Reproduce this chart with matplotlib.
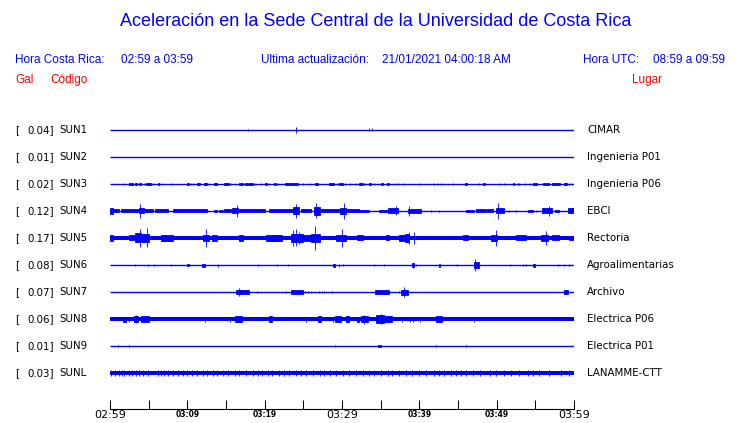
import matplotlib
matplotlib.use("Agg")
import matplotlib.pyplot as plt

# Station info (top to bottom)
codes = ["SUN1", "SUN2", "SUN3", "SUN4", "SUN5", "SUN6", "SUN7", "SUN8", "SUN9", "SUNL"]
gal_max = [0.04, 0.01, 0.02, 0.12, 0.17, 0.08, 0.07, 0.06, 0.01, 0.03]
places = ["CIMAR", "Ingenieria P01", "Ingenieria P06", "EBCI", "Rectoria",
          "Agroalimentarias", "Archivo", "Electrica P06", "Electrica P01", "LANAMME-CTT"]

# continuous noise level of each trace (counts, half width)
noise_floor = [0, 0, 0, 0, 2.0, 0, 0, 1.7, 0, 1.7]

# bursts: (start minute, end minute, half amplitude in counts)
sun1 = [(17.9, 17.9, 1.0), (24.0, 24.1, 1.5), (24.05, 24.05, 3.0),
        (33.55, 33.55, 1.5), (33.85, 33.85, 1.5)]
sun2 = []
sun3 = [(1.85, 1.85, 1.0), (2.5, 3.0, 1.3), (3.28, 3.53, 1.3), (3.79, 4.05, 1.3),
        (4.44, 4.44, 1.3), (4.66, 5.3, 1.3), (5.6, 5.6, 1.3), (6.16, 6.38, 1.3),
        (6.6, 6.6, 1.3), (7.9, 7.9, 1.3), (9.91, 10.17, 1.3), (10.5, 10.5, 1.3),
        (10.78, 10.78, 1.3), (11.2, 11.64, 1.3), (12.1, 12.5, 1.3), (12.84, 12.84, 1.3),
        (13.5, 13.8, 1.3), (14.78, 15.43, 1.3), (15.65, 15.65, 1.3), (16.64, 17.16, 1.3),
        (17.5, 17.8, 1.3), (18.0, 18.45, 1.3), (18.8, 18.8, 1.3), (19.57, 19.57, 1.0),
        (20.1, 20.34, 1.3), (20.6, 20.6, 1.3), (21.25, 21.47, 1.3), (21.72, 21.72, 1.3),
        (22.63, 22.97, 1.3), (23.2, 24.27, 1.3), (24.9, 24.9, 1.0), (25.86, 25.86, 1.0),
        (26.5, 26.94, 1.3), (28.28, 28.97, 1.3), (29.35, 29.35, 1.3), (29.65, 30.17, 1.3),
        (30.43, 30.43, 1.3), (31.03, 31.03, 1.3), (31.8, 31.8, 1.3), (32.24, 32.67, 1.3),
        (32.97, 32.97, 1.3), (33.53, 33.8, 1.3), (34.18, 34.18, 1.3), (35.09, 35.34, 1.3),
        (35.8, 36.1, 1.3), (36.8, 36.8, 1.0), (37.2, 37.2, 1.0), (37.93, 37.93, 1.0),
        (39.9, 39.9, 1.0), (41.94, 41.94, 1.0), (42.37, 42.37, 1.0), (42.8, 42.8, 1.0),
        (44.3, 44.3, 1.0), (45.95, 46.1, 1.3), (47.67, 47.67, 1.0), (48.2, 48.53, 1.3),
        (50.26, 50.26, 1.0), (51.0, 51.0, 1.0), (52.07, 52.28, 1.3), (52.76, 52.76, 1.0),
        (52.93, 52.93, 1.0), (53.6, 53.6, 1.0), (54.3, 54.3, 1.0), (54.74, 55.17, 1.3),
        (55.95, 56.2, 1.3), (56.4, 56.8, 1.3), (57.16, 58.2, 1.3), (58.75, 59.05, 1.3),
        (59.4, 59.4, 1.0), (59.74, 59.74, 1.0)]
sun4 = [(0.0, 0.35, 3.0), (0.35, 1.2, 1.5), (1.4, 3.7, 1.5), (3.8, 4.4, 2.5),
        (3.92, 3.92, 7.0), (4.4, 5.6, 1.5), (5.8, 7.5, 1.5), (8.1, 12.6, 1.5),
        (13.5, 13.9, 1.3), (14.1, 14.6, 1.3), (14.8, 15.6, 1.5), (15.8, 16.5, 2.5),
        (16.4, 16.4, 6.0), (16.7, 20.0, 1.5), (20.6, 23.6, 1.5), (23.6, 24.5, 3.5),
        (24.1, 24.1, 7.0), (24.7, 26.0, 1.5), (26.4, 27.1, 4.0), (26.6, 26.6, 7.5),
        (27.1, 29.7, 1.5), (29.7, 30.5, 3.3), (30.3, 30.3, 8.3), (30.5, 32.2, 1.5),
        (32.2, 33.5, 1.3), (34.8, 35.9, 1.3), (35.9, 37.2, 2.5), (37.0, 37.0, 4.5),
        (38.5, 40.2, 2.0), (38.7, 38.7, 5.0), (41.5, 41.5, 1.0), (42.6, 42.6, 1.0),
        (46.0, 47.1, 1.3), (47.3, 48.6, 1.5), (48.8, 49.5, 1.5), (49.9, 51.0, 2.5),
        (50.2, 50.2, 8.0), (51.6, 51.6, 1.0), (52.5, 52.5, 1.0), (54.0, 54.7, 1.0),
        (55.1, 55.1, 1.0), (55.9, 57.2, 2.5), (56.8, 56.8, 5.0), (57.5, 58.1, 1.3),
        (59.2, 60.0, 2.5)]
sun5 = [(0.0, 0.35, 3.0), (2.5, 3.15, 2.5), (3.28, 4.0, 4.5), (3.88, 3.88, 9.0),
        (4.0, 5.09, 4.0), (4.74, 4.74, 9.5), (6.6, 8.1, 2.7), (6.7, 7.3, 3.3),
        (12.0, 12.84, 3.3), (12.4, 12.4, 9.0), (13.2, 13.9, 2.7), (16.7, 17.2, 2.7),
        (20.2, 22.3, 2.7), (21.0, 21.9, 3.3), (23.4, 24.9, 4.0), (23.6, 23.6, 8.0),
        (24.1, 24.1, 8.5), (24.5, 24.5, 6.0), (24.9, 26.0, 2.7), (26.0, 27.1, 4.0),
        (26.5, 26.5, 12.3), (29.2, 30.5, 3.3), (30.0, 30.0, 9.0), (32.0, 32.7, 2.5),
        (35.7, 36.1, 2.5), (37.4, 38.3, 2.7), (38.1, 38.7, 4.0), (38.6, 38.6, 6.0),
        (39.35, 39.35, 6.0), (45.6, 46.25, 2.5), (49.3, 50.1, 3.0), (49.9, 49.9, 8.0),
        (52.5, 53.8, 2.5), (55.7, 56.6, 3.0), (56.4, 56.4, 6.7), (57.2, 58.1, 2.5),
        (59.4, 60.0, 2.0)]
sun6 = [(3.23, 3.23, 1.3), (4.87, 4.87, 1.3), (5.73, 5.73, 1.3), (7.93, 7.93, 1.0),
        (10.0, 10.2, 1.3), (11.85, 12.28, 1.5), (13.97, 13.97, 1.5), (19.18, 19.18, 1.3),
        (21.55, 21.55, 1.3), (23.06, 23.06, 1.3), (28.9, 29.1, 1.5), (29.57, 29.57, 1.5),
        (30.17, 30.17, 1.3), (34.18, 34.18, 1.0), (35.43, 35.43, 1.3), (39.05, 39.25, 2.0),
        (39.14, 39.14, 2.5), (39.57, 39.57, 1.0), (42.5, 42.67, 1.5), (44.9, 44.9, 1.0),
        (47.03, 47.67, 3.0), (47.24, 47.24, 6.3), (51.77, 51.77, 1.0), (53.45, 53.45, 1.3),
        (53.8, 53.8, 1.3), (54.7, 54.9, 1.5), (57.89, 57.89, 1.0), (58.75, 58.75, 1.0),
        (59.4, 59.4, 1.0)]
sun7 = [(16.3, 18.0, 1.8), (16.5, 17.0, 2.3), (16.64, 16.64, 4.3), (18.97, 18.97, 1.3),
        (22.76, 22.76, 1.0), (23.45, 24.9, 1.6), (25.26, 25.26, 1.3), (25.6, 25.6, 1.3),
        (26.0, 26.0, 1.3), (27.07, 27.07, 1.0), (27.4, 27.4, 1.0), (27.7, 27.7, 1.0),
        (28.7, 28.7, 1.0), (34.3, 36.1, 1.6), (37.4, 37.4, 1.3), (37.63, 38.5, 2.5),
        (37.97, 37.97, 5.0), (58.75, 59.18, 1.8)]
sun8 = [(1.64, 2.07, 2.5), (2.5, 2.5, 2.5), (3.15, 3.58, 3.0), (3.35, 3.35, 4.0),
        (4.0, 5.09, 2.7), (12.33, 12.33, 2.5), (15.5, 15.5, 2.5), (16.2, 17.07, 3.0),
        (20.5, 20.9, 2.7), (25.34, 25.34, 2.5), (26.94, 27.28, 2.7), (28.8, 28.8, 2.5),
        (29.14, 29.87, 3.0), (30.5, 30.95, 2.7), (31.9, 32.15, 2.5), (32.46, 33.3, 3.3),
        (32.9, 32.9, 4.5), (34.4, 35.47, 3.8), (35.0, 35.0, 5.0), (35.47, 36.47, 2.7),
        (37.76, 37.76, 2.5), (38.8, 38.8, 2.5), (39.2, 39.2, 2.5), (40.1, 40.1, 2.5),
        (42.16, 42.9, 3.0), (47.1, 47.1, 2.5)]
sun9 = [(1.08, 1.08, 1.0), (2.5, 2.5, 1.0), (29.14, 29.14, 1.0), (34.6, 35.0, 1.3),
        (42.16, 42.16, 1.0), (46.0, 46.0, 1.0)]
sunl_peaks = [0.1, 0.6, 1.1, 1.55, 1.85, 2.4, 2.9, 3.4, 3.8, 4.3, 4.9, 6.2, 6.6, 7.0,
              7.5, 8.1, 8.75, 9.5, 10.0, 10.6, 11.3, 12.0, 12.6, 13.3, 13.9, 14.6, 15.2,
              16.2, 16.7, 17.6, 18.5, 19.1, 19.7, 20.4, 21.0, 21.9, 22.5, 23.2, 24.05,
              24.7, 25.3, 26.2, 27.1, 27.7, 28.4, 29.2, 30.1, 30.95, 31.8, 32.7, 33.5,
              34.2, 35.0, 35.9, 36.5, 37.4, 38.3, 39.1, 40.0, 40.9, 41.9, 42.6, 43.2,
              44.1, 44.7, 45.4, 46.0, 46.9, 47.8, 49.1, 49.9, 51.0, 51.9, 52.9, 54.0,
              54.7, 55.5, 56.8, 58.3, 59.4]
sunl_peak_amp = 3.0
sunl = [(t, t, sunl_peak_amp) for t in sunl_peaks]

bursts = [sun1, sun2, sun3, sun4, sun5, sun6, sun7, sun8, sun9, sunl]

# time axis
tick_minutes = [0, 10, 20, 30, 40, 50, 60]
tick_labels = ["02:59", "03:09", "03:19", "03:29", "03:39", "03:49", "03:59"]
minor_minutes = [5, 15, 25, 35, 45, 55]

BLUE = "#0000ff"
RED = "#ff0000"
W, H = 740, 423
gain = 1 / 27  # counts -> row spacing

fig = plt.figure(figsize=(W / 100, H / 100), dpi=100)
fig.patch.set_facecolor("white")


def fx(px):
    return px / W


def fy(py):
    return 1 - py / H


# header
hdr = dict(family="Liberation Sans", color=BLUE)
fig.text(fx(376), fy(22), "Aceleración en la Sede Central de la Universidad de Costa Rica",
         ha="center", va="center", fontsize=13, **hdr)
sub = dict(va="center", fontsize=8.5, **hdr)
fig.text(fx(15), fy(60), "Hora Costa Rica:", **sub)
fig.text(fx(121), fy(60), "02:59 a 03:59", **sub)
fig.text(fx(261), fy(60), "Ultima actualización:", **sub)
fig.text(fx(382), fy(60), "21/01/2021 04:00:18 AM", **sub)
fig.text(fx(583), fy(60), "Hora UTC:", **sub)
fig.text(fx(653), fy(60), "08:59 a 09:59", **sub)
red = dict(va="center", fontsize=8.5, family="Liberation Sans", color=RED)
fig.text(fx(15), fy(80), "Gal", **red)
fig.text(fx(50), fy(80), "Código", **red)
fig.text(fx(632), fy(80), "Lugar", **red)

# traces axes: rows 27 px apart, first row at y=130, axis line at y=409
ax = fig.add_axes([fx(110), fy(409), (574 - 110) / W, (409 - 103) / H])
ax.set_xlim(0, 60)
ax.set_ylim(9 + 36 / 27, -1)

for i, code in enumerate(codes):
    ax.plot([0, 60], [i, i], color=BLUE, lw=1.0, solid_capstyle="butt")
    if noise_floor[i] > 0:
        a = noise_floor[i] * gain
        ax.fill_between([0, 60], i - a, i + a, color=BLUE, lw=0)
    for t0, t1, amp in bursts[i]:
        a = amp * gain
        ax.bar(t0, 2 * a, width=t1 - t0, bottom=i - a, align="edge",
               color=BLUE, edgecolor=BLUE, linewidth=0.6)

    yrow = 130 + 27 * i
    lab = dict(va="center", fontsize=7.4, family="DejaVu Sans", color="black")
    fig.text(fx(15), fy(yrow), "[", **lab)
    fig.text(fx(27.7), fy(yrow), f"{gal_max[i]:.2f}]", **lab)
    fig.text(fx(59), fy(yrow), code, **lab)
    fig.text(fx(587), fy(yrow), places[i], **lab)

for side in ["left", "right", "top"]:
    ax.spines[side].set_visible(False)
ax.spines["bottom"].set_linewidth(0.8)
ax.set_yticks([])
ax.set_xticks(tick_minutes)
ax.set_xticks(minor_minutes, minor=True)
ax.tick_params(axis="x", which="both", direction="in", length=6.5, width=0.75,
               color="black", pad=0.5)
labels = ax.set_xticklabels(tick_labels)
for k, lbl in enumerate(labels):
    if k in (0, 3, 6):
        lbl.set_fontsize(8)
    else:
        lbl.set_fontsize(5.5)
        lbl.set_fontweight("bold")

fig.savefig("out.png", dpi=100)
